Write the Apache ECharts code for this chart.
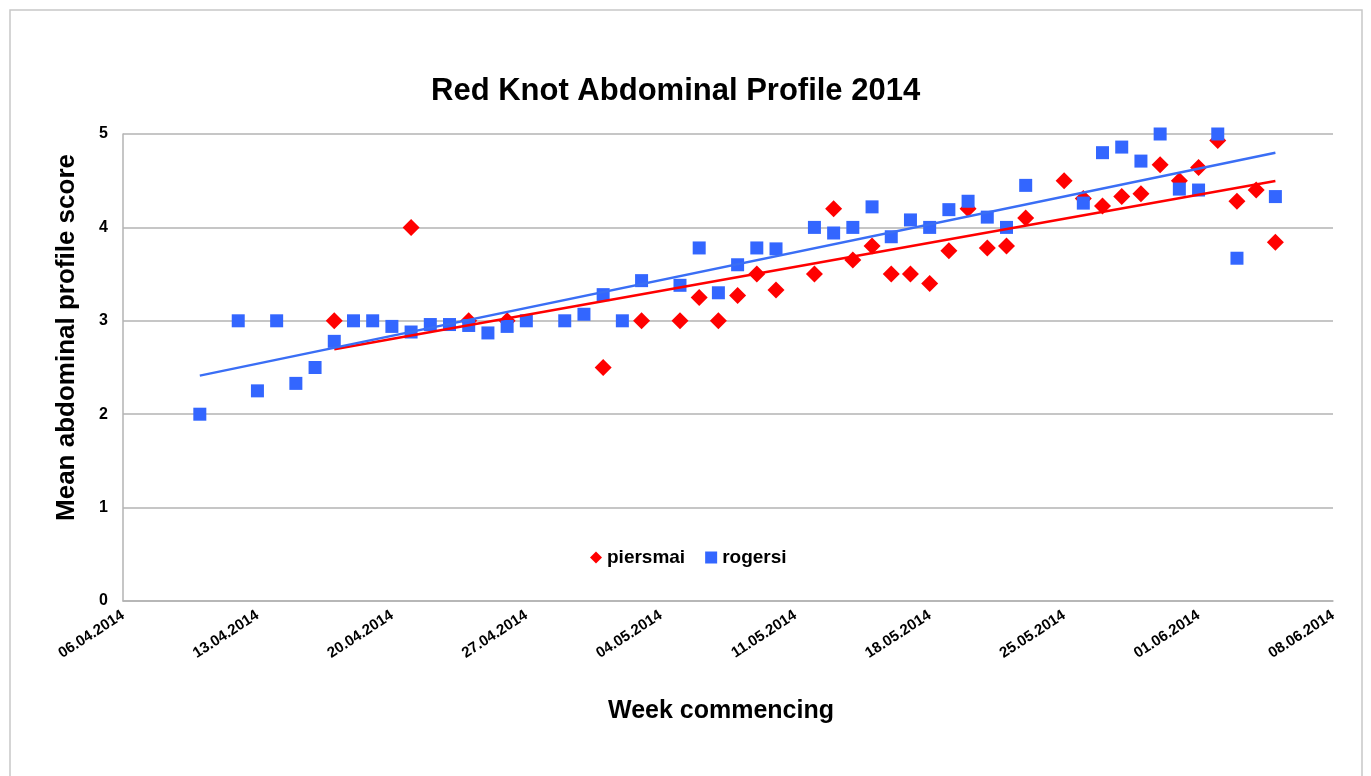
<!DOCTYPE html>
<html><head><meta charset="utf-8">
<script src="https://cdn.jsdelivr.net/npm/echarts@6/dist/echarts.min.js"></script>
<style>html,body{margin:0;padding:0;background:#fff}#c{width:1371px;height:776px}</style>
</head><body><div id="c"></div>
<script>
// ---- data ----
const titleText = 'Red Knot Abdominal Profile 2014';
const xAxisTitle = 'Week commencing';
const yAxisTitle = 'Mean abdominal profile score';
const axisStartDate = '06.04.2014';
const xTickLabels = ['06.04.2014','13.04.2014','20.04.2014','27.04.2014','04.05.2014','11.05.2014','18.05.2014','25.05.2014','01.06.2014','08.06.2014'];
const yTickValues = [0,1,2,3,4,5];

const piersmaiDates = ['17.04.2014','21.04.2014','24.04.2014','26.04.2014','01.05.2014','03.05.2014','05.05.2014','06.05.2014','07.05.2014','08.05.2014','09.05.2014','10.05.2014','12.05.2014','13.05.2014','14.05.2014','15.05.2014','16.05.2014','17.05.2014','18.05.2014','19.05.2014','20.05.2014','21.05.2014','22.05.2014','23.05.2014','25.05.2014','26.05.2014','27.05.2014','28.05.2014','29.05.2014','30.05.2014','31.05.2014','01.06.2014','02.06.2014','03.06.2014','04.06.2014','05.06.2014'];
const piersmaiValues = [3.0,4.0,3.0,3.0,2.5,3.0,3.0,3.25,3.0,3.27,3.5,3.33,3.5,4.2,3.65,3.8,3.5,3.5,3.4,3.75,4.2,3.78,3.8,4.1,4.5,4.31,4.23,4.33,4.36,4.67,4.5,4.64,4.93,4.28,4.4,3.84];

const rogersiDates = ['10.04.2014','12.04.2014','13.04.2014','14.04.2014','15.04.2014','16.04.2014','17.04.2014','18.04.2014','19.04.2014','20.04.2014','21.04.2014','22.04.2014','23.04.2014','24.04.2014','25.04.2014','26.04.2014','27.04.2014','29.04.2014','30.04.2014','01.05.2014','02.05.2014','03.05.2014','05.05.2014','06.05.2014','07.05.2014','08.05.2014','09.05.2014','10.05.2014','12.05.2014','13.05.2014','14.05.2014','15.05.2014','16.05.2014','17.05.2014','18.05.2014','19.05.2014','20.05.2014','21.05.2014','22.05.2014','23.05.2014','26.05.2014','27.05.2014','28.05.2014','29.05.2014','30.05.2014','31.05.2014','01.06.2014','02.06.2014','03.06.2014','05.06.2014'];
const rogersiValues = [2.0,3.0,2.25,3.0,2.33,2.5,2.78,3.0,3.0,2.94,2.88,2.96,2.96,2.95,2.87,2.94,3.0,3.0,3.07,3.28,3.0,3.43,3.38,3.78,3.30,3.60,3.78,3.77,4.0,3.94,4.0,4.22,3.90,4.08,4.0,4.19,4.28,4.11,4.0,4.45,4.26,4.80,4.86,4.71,5.0,4.41,4.40,5.0,3.67,4.33];

// ---- helpers ----
function toUTC(s){ const p = s.split('.').map(Number); return Date.UTC(p[2], p[1]-1, p[0]); }
const t0 = toUTC(axisStartDate);
function dayIndex(s){ return Math.round((toUTC(s) - t0) / 86400000); }
function pairs(dates, vals){ return dates.map((d,i)=>[dayIndex(d), vals[i]]); }
function trend(pts){
  const n = pts.length;
  let sx=0, sy=0, sxx=0, sxy=0;
  pts.forEach(p=>{ sx+=p[0]; sy+=p[1]; sxx+=p[0]*p[0]; sxy+=p[0]*p[1]; });
  const b = (n*sxy - sx*sy) / (n*sxx - sx*sx);
  const a = (sy - b*sx) / n;
  const xs = pts.map(p=>p[0]);
  const x0 = Math.min.apply(null, xs), x1 = Math.max.apply(null, xs);
  return [[x0, a+b*x0],[x1, a+b*x1]];
}
const pPts = pairs(piersmaiDates, piersmaiValues);
const rPts = pairs(rogersiDates, rogersiValues);
const xMax = dayIndex(xTickLabels[xTickLabels.length-1]);

const FONT = "'Liberation Sans', Arial, sans-serif";
const RED = '#FF0000', BLUE = '#3366FF', GRIDC = '#B3B3B3';

const chart = echarts.init(document.getElementById('c'), null, {renderer:'canvas'});
chart.setOption({
  backgroundColor: '#fff',
  animation: false,
  graphic: [{ type:'rect', shape:{x:10, y:10, width:1352, height:800}, style:{fill:'none', stroke:'#C8C8C8', lineWidth:1.5}, silent:true, z:-1 }],
  title: { text: titleText, left: 426, top: 71, textStyle: { fontFamily: FONT, fontWeight:'bold', fontSize:31, color:'#000' } },
  legend: {
    left: 585, top: 543, itemGap: 20, itemWidth: 12, itemHeight: 12,
    data: [{name:'piersmai', icon:'diamond'},{name:'rogersi', icon:'rect'}],
    textStyle: { fontFamily: FONT, fontWeight:'bold', fontSize:19, color:'#000' }
  },
  grid: { left:123, right:38, top:134, bottom:175, containLabel:false },
  xAxis: {
    type:'value', min:0, max:xMax, interval:7,
    name: xAxisTitle, nameLocation:'middle', nameGap: 98,
    nameTextStyle: { fontFamily: FONT, fontWeight:'bold', fontSize:25, color:'#000', padding:[0,14,0,0] },
    axisLine: { show:true, lineStyle:{ color:GRIDC, width:1.5 } },
    axisTick: { show:false },
    splitLine: { show:false },
    axisLabel: { rotate:33, margin:13, fontFamily: FONT, fontWeight:'bold', fontSize:15, color:'#000',
      formatter: v => xTickLabels[Math.round(v/7)] || '' }
  },
  yAxis: {
    type:'value', min:yTickValues[0], max:yTickValues[yTickValues.length-1], interval:1,
    name: yAxisTitle, nameLocation:'middle', nameGap: 43,
    nameTextStyle: { fontFamily: FONT, fontWeight:'bold', fontSize:26, color:'#000', padding:[0,0,0,60] },
    axisLine: { show:true, lineStyle:{ color:GRIDC, width:1.5 } },
    axisTick: { show:false },
    splitLine: { show:true, lineStyle:{ color:GRIDC, width:1.5 } },
    axisLabel: { margin:15, fontFamily: FONT, fontWeight:'bold', fontSize:16, color:'#000' }
  },
  series: [
    { name:'piersmai', type:'scatter', symbol:'diamond', symbolSize:17, data:pPts, itemStyle:{color:RED, opacity:1}, z:2 },
    { name:'rogersi', type:'scatter', symbol:'rect', symbolSize:13, data:rPts, itemStyle:{color:BLUE, opacity:1}, z:3 },
    { name:'piersmai trend', type:'line', data:trend(pPts), showSymbol:false, silent:true, lineStyle:{color:RED, width:2.5}, itemStyle:{color:RED}, z:4 },
    { name:'rogersi trend', type:'line', data:trend(rPts), showSymbol:false, silent:true, lineStyle:{color:'#3A6EF5', width:2.5}, itemStyle:{color:'#3A6EF5'}, z:4 }
  ]
});
</script></body></html>
